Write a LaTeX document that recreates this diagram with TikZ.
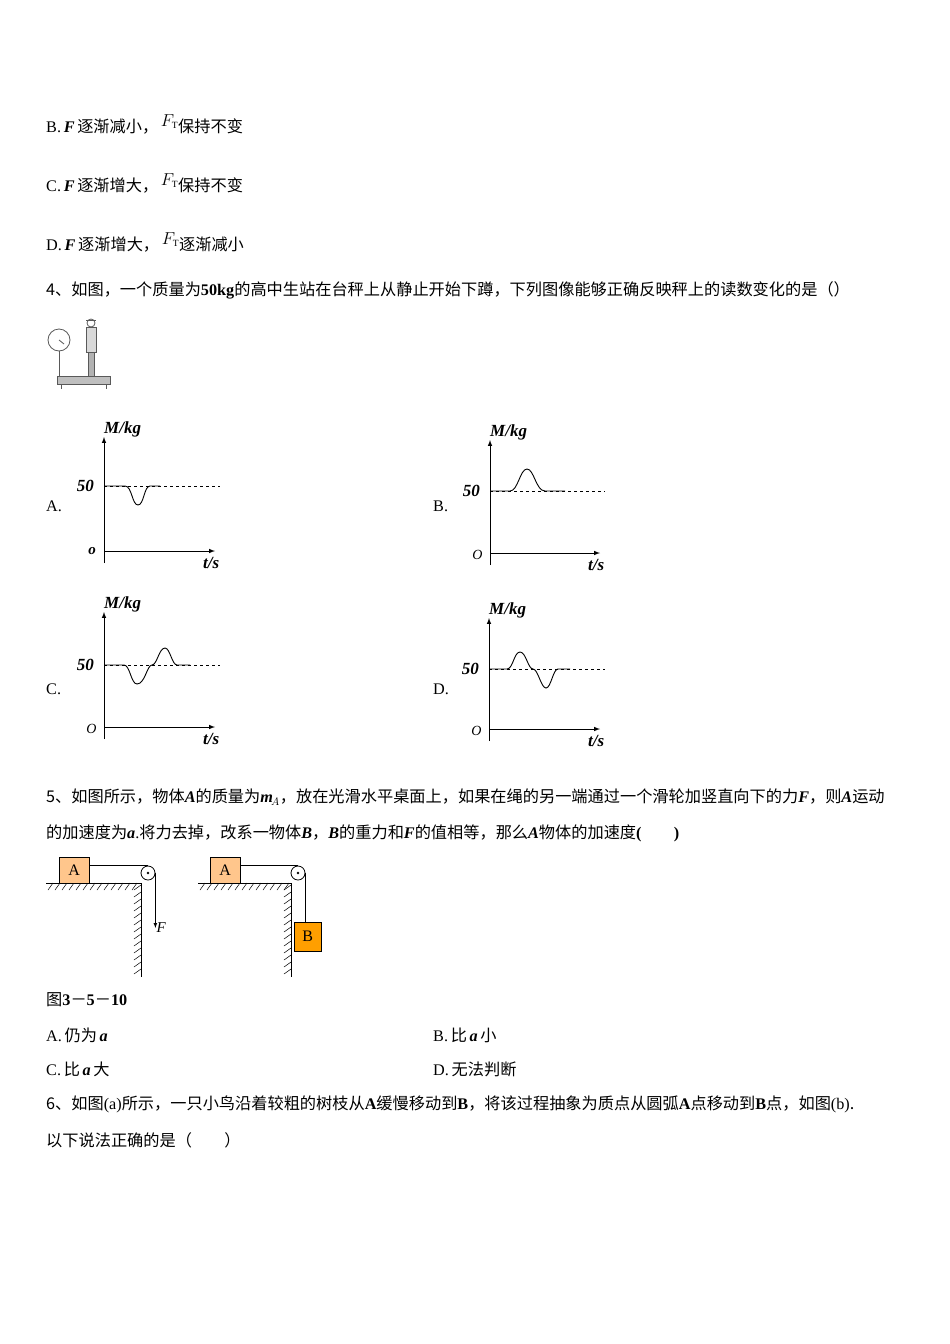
\documentclass[tikz,border=0pt]{standalone}
\usepackage{fontspec}
\setmainfont{Liberation Serif}
\newfontfamily\cjk{Noto Sans CJK SC}
\newcommand\R[1]{{\rmfamily #1}}
\newcommand\BI[1]{{\rmfamily\bfseries\itshape #1}}
\newcommand\BB[1]{{\rmfamily\bfseries #1}}
\usetikzlibrary{patterns}
\begin{document}
\begin{tikzpicture}[x=1pt,y=-1pt,
  txt/.style={anchor=west,inner sep=0pt,font=\cjk\fontsize{16.2}{18}\selectfont},
  ax/.style={line width=1pt,-latex},
  curve/.style={line width=0.9pt},
  dsh/.style={dashed,line width=0.6pt},
  glab/.style={font=\bfseries\itshape\fontsize{17}{18}\selectfont,inner sep=0pt},
  hatch/.style={line width=0.5pt},
  boxA/.style={draw,fill=orange!45!white,minimum width=30pt,minimum height=26pt,inner sep=0pt,font=\fontsize{16}{16}\selectfont}]
\useasboundingbox (0,0) rectangle (950,1344);
\def\FT{\R{\fontsize{19}{19}\selectfont$F_{\mathrm{\scriptscriptstyle T}}$}}
\node[txt] (lb) at (46,124) {\R{B.}\,\BI{F}\,逐渐减小，\,\raisebox{6pt}{\FT}保持不变};
\node[txt] (lc) at (46,183) {\R{C.}\,\BI{F}\,逐渐增大，\,\raisebox{6pt}{\FT}保持不变};
\node[txt] (ld) at (46,242) {\R{D.}\,\BI{F}\,逐渐增大，\,\raisebox{6pt}{\FT}逐渐减小};
\node[txt] (q4) at (46,290) {4、如图，一个质量为\BB{50kg}的高中生站在台秤上从静止开始下蹲，下列图像能够正确反映秤上的读数变化的是（）};
% scale picture
\begin{scope}[gray!70!black,line width=0.8pt]
\node[draw,circle,minimum size=22pt,fill=white] (dial) at (59,340) {};
\draw (dial.center) -- ++(5,4);
\draw (59,351) -- (59,377);
\draw[fill=gray!50] (57,376) rectangle (110,384);
\draw (61,384) -- (61,389) (106,384) -- (106,389);
\draw[fill=gray!30] (86,327) rectangle (96,352);
\draw[fill=gray!60] (88,352) rectangle (94,376);
\draw[fill=white] (91,323) circle (4);
\draw (86,320) -- (96,320);
\end{scope}
\newcommand\mygraph[5]{% ox oy top 50y xend
 \draw[ax] (#1,#2+12) -- (#1,#3);
 \draw[ax] (#1,#2) -- (#5,#2);
 \draw[dsh] (#1,#4) -- (#5+5,#4);
 \node[glab,anchor=south west] at (#1,#3) {M/kg};
 \node[glab,anchor=east] at (#1-10,#4) {50};
 \node[glab,anchor=north west] at (#5-12,#2+6) {t/s};
}
\mygraph{104}{551}{437}{486}{215}
\node[glab,anchor=east,font=\itshape\bfseries\fontsize{15}{16}\selectfont] at (96,551) {o};
\draw[curve] (104,486) -- (125,486) .. controls (132,486) and (132,505) .. (138,505) .. controls (144,505) and (144,486) .. (150,486) -- (160,486);
\node[txt] (ga) at (46,506) {\R{A.}};
\mygraph{490}{553}{440}{491}{600}
\node[anchor=east,font=\itshape\fontsize{14}{16}\selectfont] at (486,555) {O};
\draw[curve] (490,491) -- (510,491) .. controls (518,491) and (520,469) .. (527,469) .. controls (534,469) and (536,491) .. (545,491) -- (565,491);
\node[txt] (gb) at (433,506) {\R{B.}};
\mygraph{104}{727}{612}{665}{215}
\node[anchor=east,font=\itshape\fontsize{14}{16}\selectfont] at (100,729) {O};
\draw[curve] (104,665) -- (124,665) .. controls (130,665) and (131,684) .. (137,684) .. controls (145,684) and (147,665) .. (152,665) .. controls (157,665) and (159,648) .. (165,648) .. controls (170,648) and (172,665) .. (177,665) -- (190,665);
\node[txt] (gc) at (46,689) {\R{C.}};
\mygraph{489}{729}{618}{669}{600}
\node[anchor=east,font=\itshape\fontsize{14}{16}\selectfont] at (485,731) {O};
\draw[curve] (489,669) -- (507,669) .. controls (513,669) and (514,652) .. (520,652) .. controls (526,652) and (528,669) .. (533,669) .. controls (538,669) and (541,688) .. (546,688) .. controls (551,688) and (553,669) .. (558,669) -- (570,669);
\node[txt] (gd) at (433,689) {\R{D.}};
% Q5
\node[txt] (q5a) at (46,797) {5、如图所示，物体\BI{A}的质量为\BI{m}\R{$_{\!A}$}，放在光滑水平桌面上，如果在绳的另一端通过一个滑轮加竖直向下的力\BI{F}，则\BI{A}运动};
\node[txt] (q5b) at (46,833) {的加速度为\BI{a}\R{.}将力去掉，改系一物体\BI{B}，\BI{B}的重力和\BI{F}的值相等，那么\BI{A}物体的加速度\BB{(\qquad)}};
% left figure
\draw[line width=0.8pt] (46,883) -- (141,883) -- (141,977);
\foreach \x in {48,55,...,137} \draw[hatch] (\x+5,883) -- (\x,890);
\foreach \y in {890,897,...,975} \draw[hatch] (141,\y-5) -- (134,\y);
\node[boxA,anchor=south west] (A1) at (59,883) {A};
\node[draw,circle,minimum size=14pt,inner sep=0pt,line width=0.8pt,fill=white] (p1) at (148,873) {};
\fill (p1.center) circle (1.4);
\draw[line width=0.7pt] (A1.east|-p1.north) -- (p1.north);
\draw[line width=0.7pt,-latex] (p1.east) -- ++(0,55) coordinate (fend);
\node[anchor=west,inner sep=1pt,font=\itshape\fontsize{15}{16}\selectfont] at (fend) {F};
% right figure
\draw[line width=0.8pt] (198,883) -- (291,883) -- (291,977);
\foreach \x in {200,207,...,287} \draw[hatch] (\x+5,883) -- (\x,890);
\foreach \y in {890,897,...,975} \draw[hatch] (291,\y-5) -- (284,\y);
\node[boxA,anchor=south west] (A2) at (210,883) {A};
\node[draw,circle,minimum size=14pt,inner sep=0pt,line width=0.8pt,fill=white] (p2) at (298,873) {};
\fill (p2.center) circle (1.4);
\draw[line width=0.7pt] (A2.east|-p2.north) -- (p2.north);
\node[draw,fill=orange!75!yellow,minimum width=27pt,minimum height=29pt,inner sep=0pt,anchor=north west,font=\fontsize{16}{16}\selectfont] (B) at (294,922) {B};
\draw[line width=0.7pt] (p2.east) -- (B.north -| p2.east);
\node[txt] (cap) at (46,1000) {图\BB{3}－\BB{5}－\BB{10}};
\node[txt] (oa) at (46,1035) {\R{A.}\,仍为\,\BI{a}};
\node[txt] (ob) at (433,1035) {\R{B.}\,比\,\BI{a}\,小};
\node[txt] (oc) at (46,1069) {\R{C.}\,比\,\BI{a}\,大};
\node[txt] (od) at (433,1069) {\R{D.}\,无法判断};
\node[txt] (q6a) at (46,1104) {6、如图\R{(a)}所示，一只小鸟沿着较粗的树枝从\BB{A}缓慢移动到\BB{B}，将该过程抽象为质点从圆弧\BB{A}点移动到\BB{B}点，如图\R{(b)}.};
\node[txt] (q6b) at (46,1140) {以下说法正确的是（\qquad）};
\end{tikzpicture}
\end{document}
